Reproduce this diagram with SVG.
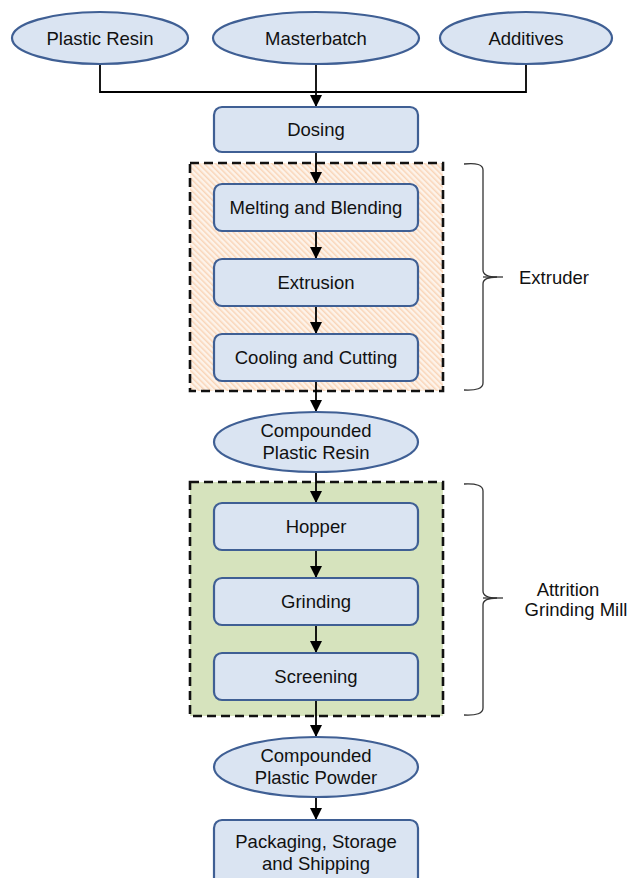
<svg xmlns="http://www.w3.org/2000/svg" width="629" height="878" viewBox="0 0 629 878">
<defs>
<pattern id="hatch" patternUnits="userSpaceOnUse" width="4" height="4" patternTransform="rotate(-45)">
<rect width="4" height="4" fill="#fdf3ea"/>
<rect width="1.5" height="4" fill="#f9d5b8"/>
</pattern>
<marker id="arr" viewBox="0 0 12 12" refX="12" refY="6" markerWidth="12" markerHeight="12" markerUnits="userSpaceOnUse" orient="auto">
<path d="M0,0 L12,6 L0,12 z" fill="#000"/>
</marker>
</defs>
<style>
.box{fill:#dae4f2;stroke:#3f5f94;stroke-width:2.2}
.ell{fill:#dae4f2;stroke:#3f5f94;stroke-width:2.2}
.grp{stroke:#111;stroke-width:2.6;stroke-dasharray:9 5}
.t{font-family:"Liberation Sans",Arial,sans-serif;font-size:18.5px;fill:#111;text-anchor:middle}
.c{fill:none;stroke:#000;stroke-width:1.8}
.br{fill:none;stroke:#333;stroke-width:1.3}
</style>
<rect width="629" height="878" fill="#fff"/>

<g id="extruder-group">
<rect x="190" y="163" width="253" height="228" fill="url(#hatch)" class="grp"/>
</g>
<g id="mill-group">
<rect x="190" y="482" width="253" height="234" fill="#d6e3bd" class="grp"/>
</g>

<g id="connectors">
<path class="c" d="M100,64 V92 H526 V64"/>
<path class="c" d="M316,64 V107" marker-end="url(#arr)"/>
<path class="c" d="M316,152 V184" marker-end="url(#arr)"/>
<path class="c" d="M316,231 V259" marker-end="url(#arr)"/>
<path class="c" d="M316,306 V334" marker-end="url(#arr)"/>
<path class="c" d="M316,381 V412" marker-end="url(#arr)"/>
<path class="c" d="M316,472 V503" marker-end="url(#arr)"/>
<path class="c" d="M316,550 V578" marker-end="url(#arr)"/>
<path class="c" d="M316,625 V653" marker-end="url(#arr)"/>
<path class="c" d="M316,700 V737" marker-end="url(#arr)"/>
<path class="c" d="M316,797 V820" marker-end="url(#arr)"/>
</g>

<g id="plastic-resin"><ellipse class="ell" cx="100" cy="38" rx="88" ry="26"/><text class="t" x="100" y="45">Plastic Resin</text></g>
<g id="masterbatch"><ellipse class="ell" cx="316" cy="38" rx="103" ry="26"/><text class="t" x="316" y="45">Masterbatch</text></g>
<g id="additives"><ellipse class="ell" cx="526" cy="38" rx="86" ry="26"/><text class="t" x="526" y="45">Additives</text></g>

<g id="dosing"><rect class="box" x="214" y="107" width="204" height="45" rx="8"/><text class="t" x="316" y="136">Dosing</text></g>
<g id="melting"><rect class="box" x="214" y="184" width="204" height="47" rx="8"/><text class="t" x="316" y="214">Melting and Blending</text></g>
<g id="extrusion"><rect class="box" x="214" y="259" width="204" height="47" rx="8"/><text class="t" x="316" y="289">Extrusion</text></g>
<g id="cooling"><rect class="box" x="214" y="334" width="204" height="47" rx="8"/><text class="t" x="316" y="364">Cooling and Cutting</text></g>

<g id="compounded-resin"><ellipse class="ell" cx="316" cy="442" rx="102" ry="30"/><text class="t" x="316" y="437">Compounded</text><text class="t" x="316" y="459">Plastic Resin</text></g>

<g id="hopper"><rect class="box" x="214" y="503" width="204" height="47" rx="8"/><text class="t" x="316" y="533">Hopper</text></g>
<g id="grinding"><rect class="box" x="214" y="578" width="204" height="47" rx="8"/><text class="t" x="316" y="608">Grinding</text></g>
<g id="screening"><rect class="box" x="214" y="653" width="204" height="47" rx="8"/><text class="t" x="316" y="683">Screening</text></g>

<g id="compounded-powder"><ellipse class="ell" cx="316" cy="767" rx="102" ry="30"/><text class="t" x="316" y="762">Compounded</text><text class="t" x="316" y="784">Plastic Powder</text></g>

<g id="packaging"><rect class="box" x="214" y="820" width="204" height="70" rx="8"/><text class="t" x="316" y="848">Packaging, Storage</text><text class="t" x="316" y="870">and Shipping</text></g>

<g id="extruder-label">
<path class="br" d="M464,164 Q483,162 483,170 V270 Q483,277 497,277 M497,277 Q483,277 483,284 V383 Q483,391 464,390"/>
<path class="br" d="M483,277 H503"/>
<text class="t" x="519" y="284" style="text-anchor:start">Extruder</text>
</g>
<g id="mill-label">
<path class="br" d="M464,484 Q483,483 483,491 V591 Q483,598 497,598 M497,598 Q483,598 483,605 V708 Q483,716 464,715"/>
<path class="br" d="M483,598 H503"/>
<text class="t" x="568" y="596">Attrition</text>
<text class="t" x="576" y="616">Grinding Mill</text>
</g>
</svg>
